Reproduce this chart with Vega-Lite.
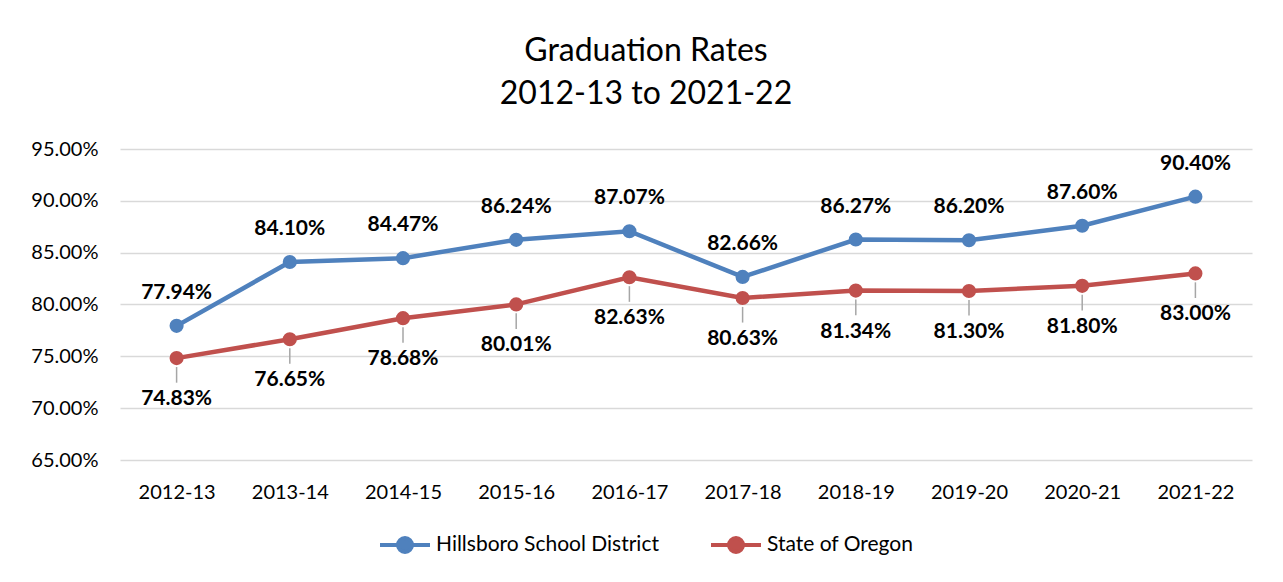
{
  "$schema": "https://vega.github.io/schema/vega-lite/v6.json",
  "autosize": {"type": "none"},
  "width": 1132,
  "height": 311,
  "padding": {"left": 120, "top": 149, "right": 31, "bottom": 122},
  "background": "white",
  "config": {
    "font": "Lato",
    "view": {"stroke": null},
    "axis": {"labelFont": "Lato", "labelColor": "#000000", "domain": false, "ticks": false, "titleFontSize": 0}
  },
  "title": {
    "text": ["Graduation Rates", "2012-13 to 2021-22"],
    "fontSize": 32,
    "fontWeight": "normal",
    "font": "Lato",
    "color": "#000000",
    "anchor": "middle",
    "lineHeight": 43,
    "offset": 28,
    "dx": -40
  },
  "data": {
    "values": [
      {"year": "2012-13", "series": "Hillsboro School District", "rate": 0.7794},
      {"year": "2013-14", "series": "Hillsboro School District", "rate": 0.8410},
      {"year": "2014-15", "series": "Hillsboro School District", "rate": 0.8447},
      {"year": "2015-16", "series": "Hillsboro School District", "rate": 0.8624},
      {"year": "2016-17", "series": "Hillsboro School District", "rate": 0.8707},
      {"year": "2017-18", "series": "Hillsboro School District", "rate": 0.8266},
      {"year": "2018-19", "series": "Hillsboro School District", "rate": 0.8627},
      {"year": "2019-20", "series": "Hillsboro School District", "rate": 0.8620},
      {"year": "2020-21", "series": "Hillsboro School District", "rate": 0.8760},
      {"year": "2021-22", "series": "Hillsboro School District", "rate": 0.9040},
      {"year": "2012-13", "series": "State of Oregon", "rate": 0.7483},
      {"year": "2013-14", "series": "State of Oregon", "rate": 0.7665},
      {"year": "2014-15", "series": "State of Oregon", "rate": 0.7868},
      {"year": "2015-16", "series": "State of Oregon", "rate": 0.8001},
      {"year": "2016-17", "series": "State of Oregon", "rate": 0.8263},
      {"year": "2017-18", "series": "State of Oregon", "rate": 0.8063},
      {"year": "2018-19", "series": "State of Oregon", "rate": 0.8134},
      {"year": "2019-20", "series": "State of Oregon", "rate": 0.8130},
      {"year": "2020-21", "series": "State of Oregon", "rate": 0.8180},
      {"year": "2021-22", "series": "State of Oregon", "rate": 0.8300}
    ]
  },
  "encoding": {
    "x": {
      "field": "year", "type": "nominal", "title": null,
      "scale": {"paddingInner": 0, "paddingOuter": 0.5},
      "axis": {"labelAngle": 0, "labelFontSize": 20, "labelPadding": 22, "grid": false}
    },
    "y": {
      "field": "rate", "type": "quantitative", "title": null,
      "scale": {"domain": [0.65, 0.95], "nice": false, "zero": false},
      "axis": {"values": [0.65, 0.70, 0.75, 0.80, 0.85, 0.90, 0.95], "format": ".2%", "labelFontSize": 20, "labelPadding": 22, "grid": true, "gridColor": "#D9D9D9", "gridWidth": 1.3}
    },
    "color": {
      "field": "series", "type": "nominal", "title": null,
      "scale": {"domain": ["Hillsboro School District", "State of Oregon"], "range": ["#4F81BD", "#C0504D"]},
      "legend": {
        "orient": "none", "direction": "horizontal", "legendX": 258, "legendY": 369,
        "labelFontSize": 21, "labelFont": "Lato", "labelColor": "#000000", "labelLimit": 400,
        "symbolType": "M-1,0H1M-0.28,0A0.28,0.28 0 1,0 0.28,0A0.28,0.28 0 1,0 -0.28,0Z",
        "symbolSize": 2500, "symbolStrokeWidth": 4, "columnPadding": 44, "labelOffset": 4,
        "symbolOpacity": 1
      }
    }
  },
  "layer": [
    {
      "mark": {"type": "line", "strokeWidth": 4.5, "point": {"filled": true, "size": 200, "opacity": 1}}
    },
    {
      "transform": [{"filter": "datum.series === 'State of Oregon'"}],
      "mark": {"type": "point", "shape": "M0,0.4L0,1.1", "size": 2000, "stroke": "#A6A6A6", "strokeWidth": 1.5, "filled": false, "opacity": 1},
      "encoding": {"color": {"value": "#A6A6A6"}}
    },
    {
      "transform": [{"filter": "datum.series === 'Hillsboro School District'"}],
      "mark": {"type": "text", "dy": -33, "fontSize": 21, "fontWeight": "bold", "font": "Lato", "color": "#000000"},
      "encoding": {"text": {"field": "rate", "type": "quantitative", "format": ".2%"}, "color": {"value": "#000000"}}
    },
    {
      "transform": [{"filter": "datum.series === 'State of Oregon'"}],
      "mark": {"type": "text", "dy": 41, "fontSize": 21, "fontWeight": "bold", "font": "Lato", "color": "#000000"},
      "encoding": {"text": {"field": "rate", "type": "quantitative", "format": ".2%"}, "color": {"value": "#000000"}}
    }
  ]
}
